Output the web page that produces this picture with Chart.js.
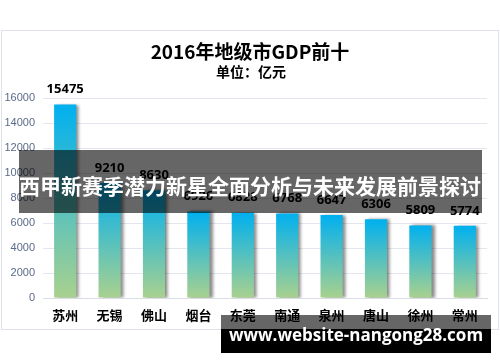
<!DOCTYPE html>
<html>
<head>
<meta charset="utf-8">
<script src="https://cdn.jsdelivr.net/npm/chart.js"></script>
<style>
  html, body { margin: 0; padding: 0; background: #fff; }
  canvas { display: block; }
</style>
</head>
<body>
<canvas id="myChart" width="500" height="362"></canvas>
<script>
// data
const cities = ['苏州', '无锡', '佛山', '烟台', '东莞', '南通', '泉州', '唐山', '徐州', '常州'];
const gdp = [15475, 9210, 8630, 6926, 6828, 6768, 6647, 6306, 5809, 5774];
const yTicks = [0, 2000, 4000, 6000, 8000, 10000, 12000, 14000, 16000];

const titleText = '2016年地级市GDP前十';
const unitText = '单位：亿元';
const bannerText = '西甲新赛季潜力新星全面分析与未来发展前景探讨';
const siteText = 'www.website-nangong28.com';

const CJK = '"Noto Sans CJK SC", "Noto Sans", sans-serif';

// gradient per bar, from its top down to zero
const barFill = (c) => {
  const chart = c.chart;
  const y = chart.scales.y;
  if (!y || !chart.chartArea) return '#00b0f0';
  const top = y.getPixelForValue(c.raw);
  const bot = y.getPixelForValue(0);
  const g = chart.ctx.createLinearGradient(0, top, 0, bot);
  g.addColorStop(0, '#00b0f0');
  g.addColorStop(1, '#a9d18e');
  return g;
};

const decor = {
  id: 'decor',
  beforeDraw(chart) {
    const ctx = chart.ctx;
    ctx.save();
    ctx.fillStyle = '#fff';
    ctx.fillRect(0, 0, chart.width, chart.height);
    ctx.strokeStyle = '#dfe2e8';
    ctx.lineWidth = 1;
    ctx.strokeRect(1.5, 30.5, 497, 299);
    ctx.textAlign = 'center';
    ctx.textBaseline = 'middle';
    ctx.fillStyle = '#000';
    ctx.font = 'bold 19px ' + CJK;
    ctx.fillText(titleText, 250, 52);
    ctx.font = 'bold 14px ' + CJK;
    ctx.fillText(unitText, 251, 72);
    ctx.restore();
  },
  beforeDatasetDraw(chart) {
    const ctx = chart.ctx;
    ctx.save();
    ctx.shadowColor = 'rgba(0,0,0,0.45)';
    ctx.shadowOffsetX = 3;
    ctx.shadowOffsetY = 0;
    ctx.shadowBlur = 3;
  },
  afterDatasetDraw(chart) {
    chart.ctx.restore();
    // value labels above bars
    const ctx = chart.ctx;
    const meta = chart.getDatasetMeta(0);
    ctx.save();
    ctx.fillStyle = '#000';
    ctx.font = 'bold 13px "Open Sans", sans-serif';
    ctx.textAlign = 'center';
    ctx.textBaseline = 'middle';
    meta.data.forEach((bar, i) => {
      ctx.fillText(String(gdp[i]), bar.x, bar.y - 15);
    });
    ctx.restore();
  },
  afterDraw(chart) {
    const ctx = chart.ctx;
    ctx.save();
    // banner across the middle
    ctx.fillStyle = 'rgba(0,0,0,0.6)';
    ctx.fillRect(19, 150, 463, 63);
    ctx.fillStyle = '#fff';
    ctx.font = 'bold 21px ' + CJK;
    ctx.textAlign = 'center';
    ctx.textBaseline = 'middle';
    ctx.fillText(bannerText, 250, 186);
    // site stamp bottom right
    ctx.fillStyle = 'rgba(0,0,0,0.6)';
    ctx.fillRect(221, 315, 270, 14);
    ctx.fillStyle = '#000';
    ctx.fillRect(221, 329, 270, 24);
    ctx.fillStyle = '#fff';
    ctx.font = 'bold 17px "Open Sans", sans-serif';
    ctx.fillText(siteText, 356, 336);
    ctx.restore();
  }
};

new Chart(document.getElementById('myChart').getContext('2d'), {
  type: 'bar',
  data: {
    labels: cities,
    datasets: [{
      data: gdp,
      backgroundColor: barFill,
      borderWidth: 0,
      categoryPercentage: 1,
      barPercentage: 0.5
    }]
  },
  options: {
    responsive: false,
    animation: false,
    layout: { padding: { top: 98, left: 0, right: 13, bottom: 34 } },
    plugins: {
      legend: { display: false },
      tooltip: { enabled: false }
    },
    scales: {
      x: {
        grid: { display: false, drawTicks: false },
        border: { color: '#d9dde5' },
        afterFit: (axis) => { axis.height = 30; },
        ticks: {
          color: '#000',
          font: { family: CJK, size: 13, weight: 'bold' },
          padding: 9
        }
      },
      y: {
        min: 0,
        max: 16000,
        afterBuildTicks: (axis) => { axis.ticks = yTicks.map(v => ({ value: v })); },
        afterFit: (axis) => { axis.width = 43; },
        grid: { color: '#e3e6ee', drawTicks: false },
        border: { display: false },
        ticks: {
          color: '#5a6a88',
          font: { family: '"Liberation Sans", sans-serif', size: 11 },
          padding: 8,
          callback: (v) => String(v)
        }
      }
    }
  },
  plugins: [decor]
});
</script>
</body>
</html>
